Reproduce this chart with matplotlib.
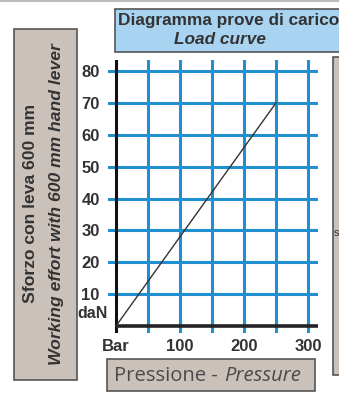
import matplotlib
matplotlib.use("Agg")
import matplotlib.pyplot as plt
from matplotlib.patches import Rectangle

# ---- data ----
pressure = [0, 250]          # bar
effort = [0, 70]             # daN
x_ticks = [0, 100, 200, 300]
x_tick_labels = ["Bar", "100", "200", "300"]
y_ticks = [10, 20, 30, 40, 50, 60, 70, 80]
y_tick_labels = ["10", "20", "30", "40", "50", "60", "70", "80"]
x_grid = [0, 50, 100, 150, 200, 250, 300]
y_grid = [0, 10, 20, 30, 40, 50, 60, 70, 80]

title1 = "Diagramma prove di carico"
title2 = "Load curve"
ylab1 = "Sforzo con leva 600 mm"
ylab2 = "Working effort with 600 mm hand lever"
xlab1 = "Pressione - "
xlab2 = "Pressure"

W, H = 339, 394
DPI = 100
fig = plt.figure(figsize=(W / DPI, H / DPI), dpi=DPI)
fig.patch.set_facecolor("white")

TXT = "#333333"
BLUE = "#1f8fcf"
BOXGRAY = "#cbc1bb"
EDGE = "#555555"

def px(x0, y0, x1, y1):
    return [x0 / W, 1 - y1 / H, (x1 - x0) / W, (y1 - y0) / H]

bg = fig.add_axes([0, 0, 1, 1])
bg.set_xlim(0, W)
bg.set_ylim(H, 0)
bg.axis("off")

bg.plot([0, W], [1, 1], color="#bdbdbd", lw=1.5)

# title box
bg.add_patch(Rectangle((115, 9), 240, 43, facecolor="#a9d4f1", edgecolor=EDGE, lw=1.2))
bg.text(229, 20, title1, ha="center", va="center", fontsize=12.4,
        fontweight="bold", color=TXT, family="Liberation Sans")
bg.text(220, 39, title2, ha="center", va="center", fontsize=12.4,
        fontweight="bold", style="italic", color=TXT, family="Liberation Sans")

# left box
bg.add_patch(Rectangle((14, 29), 63, 351, facecolor=BOXGRAY, edgecolor=EDGE, lw=1.2))
bg.text(31, 203, ylab1, ha="center", va="center", rotation=90, fontsize=12.6,
        fontweight="bold", color=TXT, family="Liberation Sans")
bg.text(57, 204, ylab2, ha="center", va="center", rotation=90, fontsize=12.6,
        fontweight="bold", style="italic", color=TXT, family="Liberation Sans")

# right partial box
bg.add_patch(Rectangle((333, 57), 30, 318, facecolor=BOXGRAY, edgecolor=EDGE, lw=1.2))
bg.text(334, 233, "s", ha="left", va="center", fontsize=8, color=TXT,
        family="Liberation Sans")

# bottom box
bg.add_patch(Rectangle((107, 359), 208, 32, facecolor=BOXGRAY, edgecolor=EDGE, lw=1.2))
t1 = bg.text(114, 376, xlab1, ha="left", va="center", fontsize=14.6,
             color="#4a4a4a", family="Open Sans")
fig.canvas.draw()
bb = t1.get_window_extent()
inv = bg.transData.inverted()
xd = inv.transform((bb.x1, 0))[0]
bg.text(xd + 1, 376, xlab2, ha="left", va="center", fontsize=14.6, style="italic",
        color="#4a4a4a", family="Open Sans")

# ---- chart axes ----
sx = (308 - 116) / 300.0
sy = (326 - 71) / 80.0
xl0, xl1 = -(116 - 108) / sx, 300 + (318 - 308) / sx
yl0, yl1 = -(333 - 326) / sy, 80 + (71 - 60) / sy
ax = fig.add_axes(px(108, 60, 318, 333))
ax.set_xlim(xl0, xl1)
ax.set_ylim(yl0, yl1)
ax.patch.set_alpha(0)
for s in ax.spines.values():
    s.set_visible(False)

for yv in y_grid[1:]:
    ax.axhline(yv, color=BLUE, lw=2.2, zorder=1)
for xv in x_grid[1:]:
    ax.axvline(xv, color=BLUE, lw=2.2, zorder=1)

ax.axvline(0, color="#111111", lw=2.2, zorder=2)
ax.plot([0, xl1], [0, 0], color="#222222", lw=2.6, zorder=2, solid_capstyle="butt")

ax.plot(pressure, effort, color="#333333", lw=1.0, zorder=3)

ax.set_xticks(x_ticks)
ax.set_xticklabels(x_tick_labels)
ax.set_yticks(y_ticks)
ax.set_yticklabels(y_tick_labels)
ax.tick_params(axis="both", length=0, labelsize=12, labelcolor=TXT)
ax.tick_params(axis="y", pad=6)
ax.tick_params(axis="x", pad=4)
for lab in ax.get_xticklabels() + ax.get_yticklabels():
    lab.set_fontweight("bold")
    lab.set_family("Liberation Sans")

bg.text(108, 313, "daN", ha="right", va="center", fontsize=11.5, fontweight="bold",
        color=TXT, family="Liberation Sans")

fig.savefig("out.png", dpi=DPI)
